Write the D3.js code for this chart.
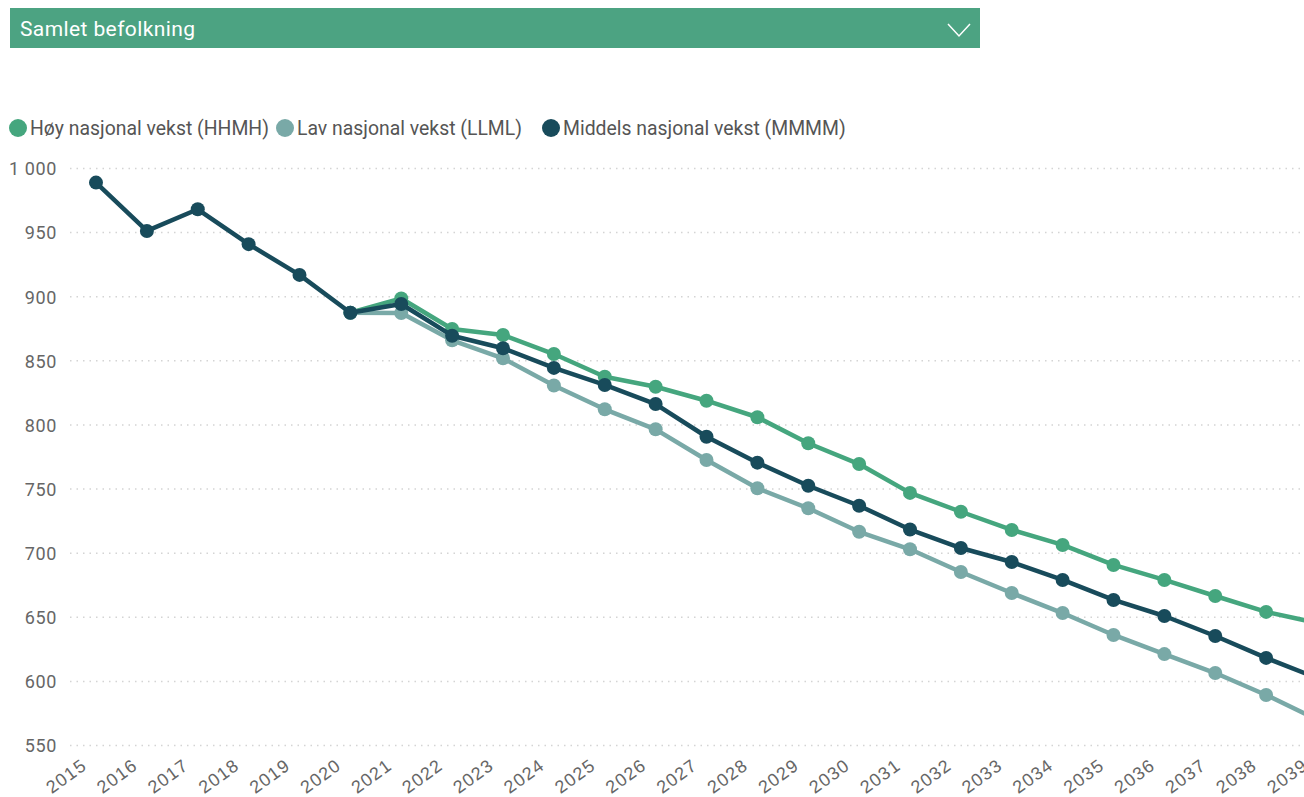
<!DOCTYPE html>
<html><head><meta charset="utf-8">
<script src="https://cdn.jsdelivr.net/npm/d3@7"></script>
<style>
html,body{margin:0;padding:0;background:#fff;overflow:hidden;}
svg{display:block;font-family:Roboto, "DejaVu Sans", sans-serif;}
</style></head>
<body><svg id="c" width="1304" height="797"></svg>
<script>
const title = "Samlet befolkning";
const years = d3.range(2015, 2040);
const seriesNames = ["Høy nasjonal vekst (HHMH)", "Lav nasjonal vekst (LLML)", "Middels nasjonal vekst (MMMM)"];
const seriesColors = ["#45a67e", "#79a9a7", "#184b5b"];
const yTicks = [550, 600, 650, 700, 750, 800, 850, 900, 950, 1000];
// values start 2020 for high/low, 2015 for middle
const hoyYears = d3.range(2020, 2040);
const hoy = [887.5, 898.6, 874.8, 870.1, 855.3, 837.6, 829.8, 818.9, 806.0, 785.7, 769.5, 747.0, 732.3, 718.1, 706.4, 690.8, 679.1, 666.6, 654.2, 645.6];
const lavYears = d3.range(2020, 2040);
const lav = [887.5, 887.3, 866.0, 852.0, 830.8, 812.2, 796.6, 772.7, 750.6, 735.0, 716.7, 703.0, 685.3, 668.9, 653.3, 636.2, 621.3, 606.5, 589.4, 570.3];
const midYears = d3.range(2015, 2040);
const mid = [989.0, 951.3, 968.2, 941.0, 917.0, 887.5, 894.3, 869.6, 859.8, 844.5, 831.2, 816.3, 790.8, 770.6, 752.6, 737.0, 718.4, 704.0, 693.1, 679.1, 663.5, 651.0, 635.4, 618.3, 602.6];

const svg = d3.select("#c");

// header bar
svg.append("rect").attr("x", 10).attr("y", 8).attr("width", 970).attr("height", 40).attr("fill", "#4ca382");
svg.append("text").attr("x", 20).attr("y", 36).attr("fill", "#fff").attr("font-size", 21).attr("letter-spacing", 0.4).text(title);
svg.append("path").attr("d", "M948,24 L959,36 L970,24").attr("fill", "none").attr("stroke", "#fff").attr("stroke-width", 1.5);

const x = d3.scaleLinear().domain([2015, 2039]).range([96, 1317]);
const y = d3.scaleLinear().domain([550, 1000]).range([745.5, 168.5]);

// grid
const grid = svg.append("g");
grid.selectAll("line").data(yTicks).join("line")
  .attr("x1", 70).attr("x2", 1304)
  .attr("y1", d => y(d)).attr("y2", d => y(d))
  .attr("stroke", "#d4d4d4").attr("stroke-width", 1.5).attr("stroke-dasharray", "1.5,5");

// y axis
const yAxis = d3.axisLeft(y).tickValues(yTicks).tickSize(0).tickPadding(0)
  .tickFormat(d => d >= 1000 ? d3.format(",")(d).replace(",", " ") : d);
const ya = svg.append("g").attr("transform", "translate(57,0)").call(yAxis);
ya.select(".domain").remove();
ya.selectAll("text").attr("font-size", 18).attr("fill", "#666").attr("letter-spacing", 0.6)
  .attr("font-family", "Roboto, sans-serif").attr("dy", "0.35em");

// x axis
const xAxis = d3.axisBottom(x).tickValues(years).tickSize(0).tickPadding(0).tickFormat(d3.format("d"));
const xa = svg.append("g").attr("transform", "translate(0,0)").call(xAxis);
xa.select(".domain").remove();
xa.selectAll(".tick").attr("transform", d => `translate(${x(d) - 8},768)`);
xa.selectAll("text").attr("font-size", 18).attr("fill", "#666").attr("letter-spacing", 1.2)
  .attr("text-anchor", "end").attr("dy", 0).attr("y", 0)
  .attr("transform", "rotate(-36)");

// lines
const series = [
  {name: seriesNames[0], color: seriesColors[0], yrs: hoyYears, vals: hoy},
  {name: seriesNames[1], color: seriesColors[1], yrs: lavYears, vals: lav},
  {name: seriesNames[2], color: seriesColors[2], yrs: midYears, vals: mid}
];
const line = d3.line().x(d => x(d[0])).y(d => y(d[1]));
series.forEach(s => {
  const pts = s.yrs.map((yr, i) => [yr, s.vals[i]]);
  const g = svg.append("g");
  g.append("path").datum(pts).attr("d", line).attr("fill", "none")
    .attr("stroke", s.color).attr("stroke-width", 4.5).attr("stroke-linejoin", "round");
  g.selectAll("circle").data(pts).join("circle")
    .attr("cx", d => x(d[0])).attr("cy", d => y(d[1])).attr("r", 7).attr("fill", s.color);
});

// legend
const legendX = [18, 285, 551];
const lg = svg.append("g");
series.forEach((s, i) => {
  lg.append("circle").attr("cx", legendX[i]).attr("cy", 128).attr("r", 9).attr("fill", s.color);
  lg.append("text").attr("x", legendX[i] + 12).attr("y", 135).attr("font-size", 19.4).attr("fill", "#555").text(s.name);
});
</script></body></html>
